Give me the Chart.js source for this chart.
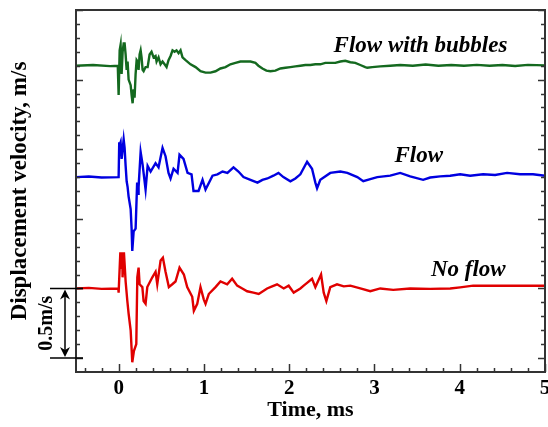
<!DOCTYPE html>
<html>
<head>
<meta charset="utf-8">
<script src="https://cdn.jsdelivr.net/npm/chart.js@4/dist/chart.umd.min.js"></script>
<style>
  html, body { margin: 0; padding: 0; background: #fff; }
</style>
</head>
<body>
<canvas id="traceChart" width="548" height="427"></canvas>
<script>
/* ============================
   DATA
============================ */

// No flow trace: time (ms) and displacement velocity (m/s)
const noFlowTime = [-0.5,-0.35,-0.2,-0.004,0.0,0.020,0.029,0.043,0.046,0.062,0.082,
  0.102,0.117,0.141,0.160,0.179,0.207,0.219,0.234,0.246,0.278,
  0.293,0.316,0.336,0.395,0.433,0.453,0.492,0.519,0.550,0.589,
  0.629,0.667,0.714,0.765,0.804,0.863,0.882,0.922,0.960,0.999,
  1.019,1.057,1.136,1.194,1.273,1.331,1.390,1.450,1.507,1.580,1.643,1.741,
  1.800,1.858,1.936,1.994,2.053,2.131,2.170,2.210,2.268,2.307,2.374,2.405,
  2.436,2.482,2.561,2.640,2.717,2.834,2.951,3.068,3.220,3.419,3.653,3.888,
  4.005,4.157,4.297,4.473,4.707,5.0];
const noFlowVel = [0,0.004,-0.003,0,-0.03,0.26,0.14,0.26,0.08,0.26,0.05,
  -0.09,-0.18,-0.30,-0.53,-0.45,-0.40,0.08,0.15,0.03,0.01,
  -0.09,-0.11,0.01,0.08,0.12,0.03,0.20,0.22,0.12,0.01,
  0.03,0.05,0.15,0.10,0.01,-0.06,-0.16,-0.11,0.01,-0.08,
  -0.11,-0.04,0.01,0.05,0.03,0.07,0.02,0.00,-0.02,-0.03,-0.04,0.00,
  0.015,0.03,0.00,0.02,-0.03,0.00,0.02,0.04,0.07,0.01,0.10,-0.03,
  -0.09,0.01,0.03,0.015,0.02,0.00,-0.02,0.00,-0.01,0.00,-0.003,0.00,
  0.008,0.02,0.02,0.02,0.02,0.02];

// Flow trace
const flowTime = [-0.5,-0.35,-0.2,0,0.007,0.012,0.023,0.035,0.047,0.059,0.070,
  0.082,0.094,0.105,0.117,0.141,0.152,0.160,0.176,0.199,0.217,
  0.228,0.234,0.258,0.281,0.316,0.340,0.375,0.433,0.468,0.515,
  0.550,0.585,0.609,0.644,0.691,0.714,0.761,0.808,0.855,0.878,
  0.937,0.984,1.019,1.101,1.159,1.218,1.276,1.347,1.405,1.464,1.546,1.628,1.686,1.745,
  1.815,1.874,1.932,2.014,2.073,2.131,2.210,2.268,2.307,2.327,2.365,2.482,
  2.600,2.682,2.799,2.869,2.951,3.033,3.185,3.302,3.419,3.571,3.653,3.770,3.888,4.005,
  4.122,4.274,4.415,4.555,4.707,4.859,5.0];
const flowVel = [0,0.004,-0.003,0,0.25,0.23,0.25,0.13,0.20,0.27,0.21,
  0.08,-0.03,-0.07,-0.14,-0.23,-0.37,-0.53,-0.39,-0.37,-0.04,
  -0.12,-0.07,0.18,0.09,-0.09,0.08,0.04,0.10,0.07,0.21,
  0.15,0.03,-0.01,0.06,0.03,0.16,0.13,0.03,0.02,-0.10,
  -0.10,-0.02,-0.09,0.01,0.02,0.04,0.03,0.07,0.04,0.00,-0.02,-0.04,-0.02,-0.01,
  0.01,0.03,0.00,-0.03,-0.01,0.02,0.11,0.06,-0.04,-0.08,-0.02,0.03,
  0.04,0.03,0.00,-0.03,-0.015,0.00,0.01,0.03,0.005,-0.02,-0.003,0.005,0.01,0.02,
  0.01,0.02,0.015,0.03,0.02,0.02,0.01];

// Flow with bubbles trace
const bubblesTime = [-0.5,-0.3,-0.1,-0.01,0.0,0.012,0.023,0.035,0.047,0.059,
  0.070,0.082,0.094,0.105,0.117,0.141,0.152,0.164,0.176,0.187,
  0.199,0.211,0.222,0.234,0.246,0.258,0.269,0.281,0.293,0.316,
  0.340,0.363,0.386,0.410,0.433,0.445,0.468,0.492,0.515,0.539,
  0.562,0.585,0.609,0.632,0.656,0.679,0.703,0.726,0.749,
  0.785,0.843,0.902,0.960,1.019,1.077,1.136,1.194,1.253,1.311,1.370,1.429,1.487,1.546,
  1.604,1.639,1.686,1.733,1.780,1.838,1.897,1.956,2.014,2.073,2.131,2.190,2.248,2.307,
  2.365,2.424,2.482,2.541,2.600,2.658,2.717,2.775,2.834,2.892,2.916,2.974,3.068,3.185,
  3.302,3.45,3.6,3.75,3.9,4.05,4.2,4.35,4.5,4.65,4.8,5.0];
const bubblesVel = [0,0.005,-0.003,0,-0.21,0.11,0.15,-0.06,0.10,0.16,
  0.16,0.08,-0.03,0.03,-0.10,-0.14,-0.21,-0.27,-0.17,-0.23,
  -0.06,0.04,0.03,-0.03,0.08,0.11,0.06,-0.03,-0.04,-0.01,
  -0.01,0.08,0.10,0.06,0.07,0.03,0.06,0.01,0.03,0.01,
  -0.01,0.04,0.07,0.11,0.10,0.11,0.09,0.11,0.06,
  0.04,0.01,-0.01,-0.04,-0.05,-0.05,-0.04,-0.02,-0.01,0.01,0.02,0.03,0.03,0.03,
  0.02,0.00,-0.02,-0.035,-0.04,-0.035,-0.02,-0.015,-0.01,-0.005,0,0.005,0.005,0.01,
  0.01,0.02,0.02,0.02,0.03,0.035,0.025,0.02,0.005,-0.01,-0.015,-0.01,-0.005,0.00,
  0.005,0.0,0.008,0.0,0.005,0.0,0.006,0.0,0.005,-0.002,0.006,0.002];

const traceNames   = ["No flow", "Flow", "Flow with bubbles"];
const traceOffsets = [0, 0.8, 1.6];   // vertical shift of each trace, m/s
const traceColors  = ["#e00000", "#0000e0", "#14691f"];

// axis ticks
const xLabelTicks = [0, 1, 2, 3, 4, 5];
const xMinorTicks = [-0.4,-0.2,0.2,0.4,0.6,0.8,1.2,1.4,1.6,1.8,2.2,2.4,2.6,2.8,
  3.2,3.4,3.6,3.8,4.2,4.4,4.6,4.8];
const yMajorTicks = [-0.5, 0, 0.5, 1.0, 1.5, 2.0];
const yMinorTicks = [-0.4,-0.3,-0.2,-0.1,0.1,0.2,0.3,0.4,0.6,0.7,0.8,0.9,
  1.1,1.2,1.3,1.4,1.6,1.7,1.8,1.9];

// scale bar (0.5 m/s drawn from the No flow baseline down)
const scaleBarFrom = 0;
const scaleBarTo = -0.5;
const scaleBarText = "0.5m/s";

const SERIF = '"Liberation Serif", "Times New Roman", serif';

/* ============================
   BUILD DATASETS
============================ */

function zipTrace(times, vals, offset){
  const n = Math.min(times.length, vals.length);
  const pts = [];
  for(let i = 0; i < n; i++){
    pts.push({ x: times[i], y: vals[i] + offset });
  }
  return pts;
}

const traces = [
  zipTrace(noFlowTime, noFlowVel, traceOffsets[0]),
  zipTrace(flowTime, flowVel, traceOffsets[1]),
  zipTrace(bubblesTime, bubblesVel, traceOffsets[2])
];

// label anchor (center x, baseline y) in data units
const labelAnchors = [
  { x: 4.10, y: 0.09 },
  { x: 3.52, y: 0.91 },
  { x: 3.54, y: 1.70 }
];

/* ============================
   FRAME, TICKS, SCALE BAR, LABELS
============================ */

const decorPlugin = {
  id: "decor",
  afterDraw(chart){
    const { ctx, chartArea: a, scales: { x, y } } = chart;
    ctx.save();

    // frame
    ctx.strokeStyle = "#333";
    ctx.lineWidth = 2;
    ctx.strokeRect(a.left, a.top, a.right - a.left, a.bottom - a.top);

    // inward tick marks
    ctx.lineWidth = 1.5;
    const yTick = (v, len) => {
      const py = Math.round(y.getPixelForValue(v)) + 0.5;
      ctx.beginPath();
      ctx.moveTo(a.left, py); ctx.lineTo(a.left + len, py);
      ctx.moveTo(a.right, py); ctx.lineTo(a.right - len, py);
      ctx.stroke();
    };
    yMajorTicks.forEach(v => yTick(v, 7));
    yMinorTicks.forEach(v => yTick(v, 4));

    const xTick = (v, len) => {
      const px = Math.round(x.getPixelForValue(v)) + 0.5;
      ctx.beginPath();
      ctx.moveTo(px, a.bottom); ctx.lineTo(px, a.bottom - len);
      ctx.stroke();
    };
    xLabelTicks.forEach(v => xTick(v, 8));
    xMinorTicks.forEach(v => xTick(v, 4));

    // scale bar
    const y0 = y.getPixelForValue(scaleBarFrom);
    const y1 = y.getPixelForValue(scaleBarTo);
    const bx = 65;
    ctx.strokeStyle = "#000";
    ctx.fillStyle = "#000";
    ctx.lineWidth = 1.5;
    ctx.beginPath();
    ctx.moveTo(50, y0); ctx.lineTo(a.left + 7, y0);
    ctx.moveTo(50, y1); ctx.lineTo(a.left + 7, y1);
    ctx.moveTo(bx, y0 + 4); ctx.lineTo(bx, y1 - 4);
    ctx.stroke();
    // arrow heads
    ctx.beginPath();
    ctx.moveTo(bx, y0 + 1); ctx.lineTo(bx - 5, y0 + 11); ctx.lineTo(bx, y0 + 8); ctx.lineTo(bx + 5, y0 + 11);
    ctx.closePath(); ctx.fill();
    ctx.beginPath();
    ctx.moveTo(bx, y1 - 1); ctx.lineTo(bx - 5, y1 - 11); ctx.lineTo(bx, y1 - 8); ctx.lineTo(bx + 5, y1 - 11);
    ctx.closePath(); ctx.fill();

    ctx.save();
    ctx.translate(47, (y0 + y1) / 2);
    ctx.rotate(-Math.PI / 2);
    ctx.font = "bold 20px " + SERIF;
    ctx.textAlign = "center";
    ctx.textBaseline = "middle";
    ctx.fillText(scaleBarText, 0, 0);
    ctx.restore();

    // series labels
    ctx.font = "italic bold 23px " + SERIF;
    ctx.textAlign = "center";
    ctx.textBaseline = "alphabetic";
    traceNames.forEach((name, i) => {
      ctx.fillText(name, x.getPixelForValue(labelAnchors[i].x), y.getPixelForValue(labelAnchors[i].y));
    });

    ctx.restore();
  }
};

/* ============================
   CHART
============================ */

new Chart(document.getElementById("traceChart"), {
  type: "line",
  data: {
    datasets: traces.map((pts, i) => ({
      label: traceNames[i],
      data: pts,
      borderColor: traceColors[i],
      borderWidth: 2.4,
      pointRadius: 0,
      tension: 0,
      fill: false
    }))
  },
  options: {
    responsive: false,
    animation: false,
    layout: { padding: { top: 10, right: 3, left: 0, bottom: 0 } },
    plugins: {
      legend: { display: false },
      tooltip: { enabled: false }
    },
    scales: {
      x: {
        type: "linear",
        min: -0.5,
        max: 5,
        grid: { display: false, drawTicks: false },
        border: { display: false },
        afterBuildTicks: s => { s.ticks = xLabelTicks.map(v => ({ value: v })); },
        ticks: {
          color: "#000",
          padding: 4,
          maxRotation: 0,
          font: { family: SERIF, size: 21, weight: "bold" }
        },
        title: {
          display: true,
          text: "Time, ms",
          color: "#000",
          padding: { top: 0, bottom: 3 },
          font: { family: SERIF, size: 22, weight: "bold" }
        },
        afterFit: s => { s.height = 55; s.paddingRight = 0; s.paddingLeft = 0; }
      },
      y: {
        type: "linear",
        min: -0.6,
        max: 2.0,
        grid: { display: false, drawTicks: false },
        border: { display: false },
        ticks: { display: false },
        title: {
          display: true,
          text: "Displacement velocity, m/s",
          color: "#000",
          padding: { top: 6, bottom: 0 },
          font: { family: SERIF, size: 23, weight: "bold" }
        },
        afterFit: s => { s.width = 76; }
      }
    }
  },
  plugins: [decorPlugin]
});
</script>
</body>
</html>
